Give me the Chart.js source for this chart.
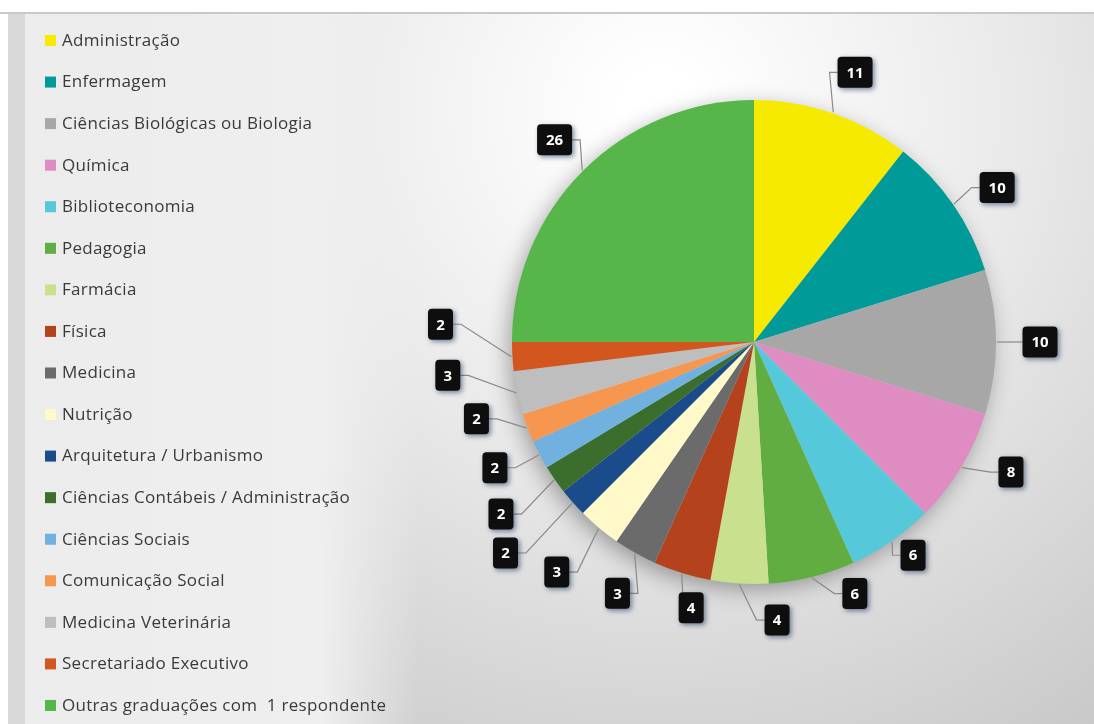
<!DOCTYPE html>
<html>
<head>
<meta charset="utf-8">
<script src="https://cdn.jsdelivr.net/npm/chart.js@4"></script>
<style>
  html, body { margin: 0; padding: 0; background: #fff; }
  canvas { display: block; }
</style>
</head>
<body>
<canvas id="cursos" width="1094" height="724"></canvas>
<script>
// Graduação dos respondentes
const cursos = [
    'Administração',
    'Enfermagem',
    'Ciências Biológicas ou Biologia',
    'Química',
    'Biblioteconomia',
    'Pedagogia',
    'Farmácia',
    'Física',
    'Medicina',
    'Nutrição',
    'Arquitetura / Urbanismo',
    'Ciências Contábeis / Administração',
    'Ciências Sociais',
    'Comunicação Social',
    'Medicina Veterinária',
    'Secretariado Executivo',
    'Outras graduações com  1 respondente'
];
const respondentes = [11, 10, 10, 8, 6, 6, 4, 4, 3, 3, 2, 2, 2, 2, 3, 2, 26];

const cores = [
    '#f6ea00', '#009b98', '#a7a7a7', '#de8cc2', '#55c8d9', '#62ad41',
    '#c9e08e', '#b4421c', '#6b6b6b', '#fff8c8', '#1a4c8c', '#3b6e2c',
    '#70b1e0', '#f7964f', '#bebebe', '#d3561f', '#56b649'
];

// where each callout box sits: turn (degrees) off the slice middle, distance from centre
const calloutTurn = [1.5, 2.2, 0, -4.3, -2.1, -8.0, -8.2, -4.0, -0.9, 0.8, 1.2, 0.4, 1.8, 5.3, 5.9, 6.7, 0.4];
const calloutDist = [288, 288, 286, 288, 266, 271, 279, 273, 286, 303, 326, 306, 288, 288, 308, 314, 284];

const fonte = '"Open Sans", "Liberation Sans", sans-serif';

const fundoPlugin = {
    id: 'fundo',
    beforeDraw: chart => {
        const ctx = chart.ctx;
        const w = chart.width, h = chart.height;
        ctx.save();
        ctx.fillStyle = '#ffffff';
        ctx.fillRect(0, 0, w, h);

        // right area, light in the top middle and greyer to the edges
        const g = ctx.createRadialGradient(660, 110, 40, 660, 110, 760);
        g.addColorStop(0, '#ffffff');
        g.addColorStop(0.45, '#e9e9e9');
        g.addColorStop(1, '#c8c8c8');
        ctx.fillStyle = g;
        ctx.fillRect(8, 14, w - 8, h - 14);

        // legend column
        const lg = ctx.createLinearGradient(25, 0, 420, 0);
        lg.addColorStop(0, '#ececec');
        lg.addColorStop(0.75, '#efefef');
        lg.addColorStop(1, 'rgba(239,239,239,0)');
        ctx.fillStyle = lg;
        ctx.fillRect(25, 14, 395, h - 14);

        ctx.fillStyle = '#d9d9d9';
        ctx.fillRect(8, 14, 17, h - 14);

        ctx.fillStyle = '#c9c9c9';
        ctx.fillRect(0, 12, w, 2);
        ctx.restore();
    },
    beforeDatasetsDraw: chart => {
        // soft shadow under the pie
        const arc = chart.getDatasetMeta(0).data[0];
        const ctx = chart.ctx;
        ctx.save();
        ctx.shadowColor = 'rgba(0,0,0,0.35)';
        ctx.shadowBlur = 22;
        ctx.shadowOffsetX = -4;
        ctx.shadowOffsetY = 6;
        ctx.fillStyle = '#d0d0d0';
        ctx.beginPath();
        ctx.arc(arc.x, arc.y, arc.outerRadius - 1, 0, Math.PI * 2);
        ctx.fill();
        ctx.restore();
    }
};

const legendaPlugin = {
    id: 'legenda',
    afterDraw: chart => {
        const ctx = chart.ctx;
        const topo = 40, passo = 41.56;
        ctx.save();
        ctx.font = '17px ' + fonte;
        ctx.letterSpacing = '0.3px';
        ctx.textBaseline = 'middle';
        chart.data.labels.forEach((nome, i) => {
            const y = topo + i * passo;
            ctx.fillStyle = chart.data.datasets[0].backgroundColor[i];
            ctx.fillRect(45, y - 5, 11, 11);
            ctx.fillStyle = '#3a3a3a';
            ctx.fillText(nome, 62, y + 1);
        });
        ctx.restore();
    }
};

const rotulosPlugin = {
    id: 'rotulos',
    afterDatasetsDraw: chart => {
        const ctx = chart.ctx;
        const meta = chart.getDatasetMeta(0);
        const valores = chart.data.datasets[0].data;
        ctx.save();
        ctx.font = 'bold 15px ' + fonte;
        meta.data.forEach((arc, i) => {
            const meio = (arc.startAngle + arc.endAngle) / 2;
            const r = arc.outerRadius;
            const ax = arc.x + Math.cos(meio) * (r + 1);
            const ay = arc.y + Math.sin(meio) * (r + 1);
            const ang = meio + calloutTurn[i] * Math.PI / 180;
            const cx = arc.x + Math.cos(ang) * calloutDist[i];
            const cy = arc.y + Math.sin(ang) * calloutDist[i];
            const texto = String(valores[i]);
            const bw = texto.length > 1 ? 35 : 25, bh = 31;
            const esq = cx - bw / 2, dir = cx + bw / 2, topo = cy - bh / 2;

            // leader line
            ctx.strokeStyle = '#8a8a8a';
            ctx.lineWidth = 1.2;
            ctx.beginPath();
            ctx.moveTo(ax, ay);
            if (ax >= esq - 2 && ax <= dir + 2 && ay < topo) {
                ctx.lineTo(Math.min(Math.max(ax, esq + 4), dir - 4), topo);
            } else if (cx > ax) {
                ctx.lineTo(esq - 8, cy);
                ctx.lineTo(esq, cy);
            } else {
                ctx.lineTo(dir + 8, cy);
                ctx.lineTo(dir, cy);
            }
            ctx.stroke();

            // black box with the count
            ctx.save();
            ctx.shadowColor = 'rgba(20,50,90,0.55)';
            ctx.shadowBlur = 5;
            ctx.shadowOffsetX = 2;
            ctx.shadowOffsetY = 2;
            ctx.fillStyle = '#0e0e0e';
            ctx.beginPath();
            ctx.roundRect(esq, topo, bw, bh, 4);
            ctx.fill();
            ctx.restore();

            ctx.fillStyle = '#ffffff';
            ctx.textAlign = 'center';
            ctx.textBaseline = 'middle';
            ctx.fillText(texto, cx, cy + 1);
        });
        ctx.restore();
    }
};

new Chart(document.getElementById('cursos'), {
    type: 'pie',
    data: {
        labels: cursos,
        datasets: [{
            data: respondentes,
            backgroundColor: cores,
            borderWidth: 0
        }]
    },
    options: {
        responsive: false,
        animation: false,
        layout: { padding: { left: 512, right: 98, top: 100, bottom: 140 } },
        plugins: {
            legend: { display: false },
            tooltip: { enabled: false }
        }
    },
    plugins: [fundoPlugin, rotulosPlugin, legendaPlugin]
});
</script>
</body>
</html>
